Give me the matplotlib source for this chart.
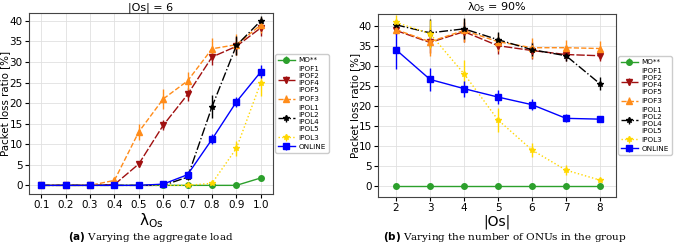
import matplotlib
matplotlib.use("Agg")
import matplotlib.pyplot as plt
import numpy as np

# ---- data ----
load = [0.1, 0.2, 0.3, 0.4, 0.5, 0.6, 0.7, 0.8, 0.9, 1.0]
a_mo = [0, 0, 0, 0, 0, 0, 0, 0, 0, 1.8]
a_ipof1245 = [0, 0, 0, 0.2, 5.2, 14.6, 22.1, 31.2, 33.8, 38.3]
a_ipof3 = [0, 0, 0, 1.2, 13.0, 21.0, 25.4, 33.2, 34.2, 39.0]
a_ipol1245 = [0, 0, 0, 0, 0, 0, 2.0, 19.1, 34.0, 40.0]
a_ipol3 = [0, 0, 0, 0, 0, 0, 0, 0.5, 9.0, 25.0]
a_online = [0, 0, 0, 0, 0, 0.3, 2.6, 11.2, 20.3, 27.6]
a_err_ipof1245 = [0, 0, 0, 0.3, 0.8, 1.2, 1.6, 2.0, 2.2, 2.0]
a_err_ipof3 = [0, 0, 0, 0.6, 2.0, 2.4, 2.2, 2.6, 2.6, 2.0]
a_err_ipol1245 = [0, 0, 0, 0, 0, 0, 0.8, 2.8, 2.2, 1.2]
a_err_ipol3 = [0, 0, 0, 0, 0, 0, 0, 0.6, 1.8, 3.2]
a_err_online = [0, 0, 0, 0, 0, 0.3, 0.8, 1.2, 1.2, 1.6]
a_err_mo = [0, 0, 0, 0, 0, 0, 0, 0, 0, 0.3]

nonus = [2, 3, 4, 5, 6, 7, 8]
b_mo = [0, 0, 0, 0, 0, 0, 0]
b_ipof1245 = [38.8, 35.8, 38.5, 35.0, 33.8, 32.8, 32.5]
b_ipof3 = [39.0, 36.0, 38.8, 36.0, 34.5, 34.5, 34.3]
b_ipol1245 = [40.2, 38.2, 39.2, 36.5, 34.0, 32.5, 25.5]
b_ipol3 = [40.8, 38.0, 28.0, 16.5, 9.0, 4.0, 1.5]
b_online = [34.0, 26.6, 24.3, 22.2, 20.3, 16.9, 16.7]
b_err_ipof1245 = [1.0, 2.5, 2.5, 2.0, 2.0, 1.5, 1.2]
b_err_ipof3 = [1.2, 3.5, 2.8, 2.2, 2.5, 2.0, 1.8]
b_err_ipol1245 = [1.2, 3.5, 2.6, 2.0, 1.6, 1.2, 1.6]
b_err_ipol3 = [1.8, 3.5, 3.5, 3.0, 1.8, 1.2, 0.5]
b_err_online = [4.8, 2.8, 2.0, 1.8, 1.4, 1.0, 0.5]
b_err_mo = [0, 0, 0, 0, 0, 0, 0]

labels = ["MO**", "IPOF1\nIPOF2\nIPOF4\nIPOF5", "IPOF3",
          "IPOL1\nIPOL2\nIPOL4\nIPOL5", "IPOL3", "ONLINE"]
colors = ["#2ca02c", "#a01010", "#ff8c1a", "black", "#ffd700", "blue"]
markers = ["o", "v", "^", "*", "*", "s"]
styles = ["-", (0, (6, 1.5)), "--", "-.", ":", "-"]

plt.rcParams['font.family'] = ['DejaVu Sans']

fig = plt.figure(figsize=(6.77, 2.43), dpi=100)
ax1 = fig.add_axes([29/677, 1-194/243, 244/677, 181/243])
ax2 = fig.add_axes([378/677, 1-197/243, 238/677, 183/243])

def draw(ax, x, ys, errs):
    for y, e, c, m, ls, lab in zip(ys, errs, colors, markers, styles, labels):
        ax.errorbar(x, y, yerr=e, color=c, marker=m, linestyle=ls,
                    markersize=4, linewidth=1.0, elinewidth=1.0,
                    label=lab)
    ax.grid(True, color="#e0e0e0", linewidth=0.6)
    ax.set_axisbelow(True)
    ax.set_yticks([0, 5, 10, 15, 20, 25, 30, 35, 40])
    ax.tick_params(labelsize=7.5, length=3, pad=1.5)
    for s in ax.spines.values():
        s.set_color("#444444")
        s.set_linewidth(0.8)
    leg = ax.legend(loc="center left", bbox_to_anchor=(1.0, 0.5),
                    fontsize=5.2, handlelength=2.3, borderpad=0.4,
                    labelspacing=0.4, handletextpad=0.5, framealpha=1,
                    edgecolor="#cccccc", borderaxespad=0.3)
    for t in leg.get_texts():
        t.set_linespacing(1.2)
    return leg

draw(ax1, load, [a_mo, a_ipof1245, a_ipof3, a_ipol1245, a_ipol3, a_online],
     [a_err_mo, a_err_ipof1245, a_err_ipof3, a_err_ipol1245, a_err_ipol3, a_err_online])
ax1.set_xticks(load)
ax1.set_xticklabels([f"{v:.1f}" for v in load])
ax1.set_xlim(0.05, 1.05)
ax1.set_ylim(-2.1, 41.9)
ax1.set_xlabel(r"$\mathregular{\lambda_{Os}}$", fontsize=11, labelpad=1)
ax1.set_title("|Os| = 6", fontsize=8, pad=2)
ax1.set_ylabel("Packet loss ratio [%]", fontsize=7.4)
ax1.yaxis.set_label_coords(-19/244, 0.5)

draw(ax2, nonus, [b_mo, b_ipof1245, b_ipof3, b_ipol1245, b_ipol3, b_online],
     [b_err_mo, b_err_ipof1245, b_err_ipof3, b_err_ipol1245, b_err_ipol3, b_err_online])
ax2.set_xticks(nonus)
ax2.set_xlim(1.47, 8.47)
ax2.set_ylim(-2.7, 42.9)
ax2.set_xlabel("|Os|", fontsize=10, labelpad=1)
ax2.set_title(r"$\mathregular{\lambda_{Os}}$ = 90%", fontsize=8, pad=2)
ax2.set_ylabel("Packet loss ratio [%]", fontsize=7.4)
ax2.yaxis.set_label_coords(-18/238, 0.5)

fig.text(151/677, 1-237/243, r"$\bf{(a)}$ Varying the aggregate load",
         ha="center", va="center", fontsize=7.5, family="DejaVu Serif")
fig.text(505/677, 1-237/243, r"$\bf{(b)}$ Varying the number of ONUs in the group",
         ha="center", va="center", fontsize=7.5, family="DejaVu Serif")

fig.savefig("out.png", dpi=100)
